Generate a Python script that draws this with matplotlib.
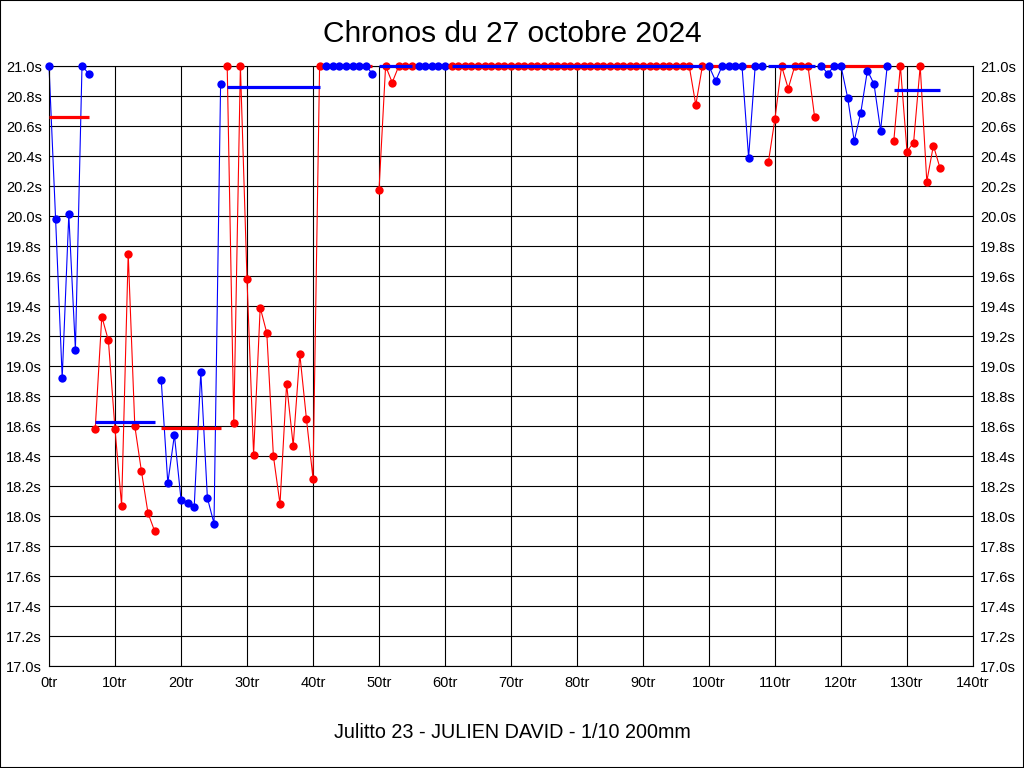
import numpy as np
import matplotlib.pyplot as plt
from matplotlib.patches import Rectangle

plt.rcParams["font.family"] = ["Liberation Sans", "DejaVu Sans"]

# chronos par tour (les valeurs > 21.0s sont ramenées à 21.0s)
chronos = [
    21.0, 19.98, 18.92, 20.01, 19.11, 21.0, 20.95,
    18.58, 19.33, 19.17, 18.58, 18.07, 19.75, 18.60, 18.30, 18.02, 17.90,
    18.91, 18.22, 18.54, 18.11, 18.09, 18.06, 18.96, 18.12, 17.95, 20.88,
    21.0, 18.62, 21.0, 19.58, 18.41, 19.39, 19.22, 18.40, 18.08, 18.88, 18.47, 19.08, 18.65, 18.25, 21.0,
    21.0, 21.0, 21.0, 21.0, 21.0, 21.0, 21.0, 20.95,
    20.17, 21.0, 20.89, 21.0, 21.0, 21.0,
    21.0, 21.0, 21.0, 21.0, 21.0,
] + [21.0] * 37 + [20.74, 21.0] + [
    21.0, 20.90, 21.0, 21.0, 21.0, 21.0, 20.39, 21.0, 21.0,
    20.36, 20.65, 21.0, 20.85, 21.0, 21.0, 21.0, 20.66,
    21.0, 20.95, 21.0, 21.0, 20.79, 20.50, 20.69, 20.97, 20.88, 20.57, 21.0,
    20.50, 21.0, 20.43, 20.49, 21.0, 20.23, 20.47, 20.32,
]
tours = np.arange(len(chronos))

# relais : premier et dernier tour, couleur, moyenne affichée
debut_relais = [0, 7, 17, 27, 42, 50, 56, 61, 100, 109, 117, 128]
fin_relais = [6, 16, 26, 41, 49, 55, 60, 99, 108, 116, 127, 135]
couleurs = ["blue", "red"] * 6
moyennes = [20.66, 18.63, 18.59, 20.86, 21.0, 21.0, 21.0, 21.0, 21.0, 21.0, 21.0, 20.84]

fig = plt.figure(figsize=(10.24, 7.68), dpi=100)
ax = fig.add_axes([49 / 1024, 1 - 666 / 768, 924 / 1024, 600 / 768])

for d, f, c, m in zip(debut_relais, fin_relais, couleurs, moyennes):
    autre = "red" if c == "blue" else "blue"
    ax.plot(tours[d:f + 1], chronos[d:f + 1], color=c, lw=0.8, zorder=2, clip_on=False)
    ax.plot(tours[d:f + 1], chronos[d:f + 1], ls="none", color=c, marker="o",
            markersize=6, markeredgewidth=0, zorder=4, clip_on=False)
    ax.plot([d, f], [m, m], color=autre, lw=2.3, solid_capstyle="butt",
            zorder=3 if autre == "red" else 5, clip_on=False)

ax.set_xlim(0, 140)
ax.set_ylim(17.0, 21.0)
xt = np.arange(0, 141, 10)
yt = np.round(np.arange(17.0, 21.01, 0.2), 1)
ax.set_xticks(xt, [f"{v}tr" for v in xt])
ax.set_yticks(yt, [f"{v:.1f}s" for v in yt])
ax.tick_params(axis="both", length=0, labelsize=10.5, colors="black")
ax.tick_params(axis="y", labelright=True, pad=5)
ax.tick_params(axis="x", pad=7)
ax.grid(True, color="black", lw=0.8)
ax.set_axisbelow(True)
for s in ax.spines.values():
    s.set_color("black")
    s.set_linewidth(0.8)

fig.text(0.5, 1 - 34 / 768, "Chronos du 27 octobre 2024", ha="center", va="center", fontsize=21.5)
fig.text(0.5, 1 - 733 / 768, "Julitto 23 - JULIEN DAVID - 1/10 200mm", ha="center", va="center", fontsize=14.2)
fig.patches.append(Rectangle((0, 0), 1, 1, transform=fig.transFigure, fill=False,
                             edgecolor="black", lw=1.5))

fig.savefig("out.png", dpi=100)
